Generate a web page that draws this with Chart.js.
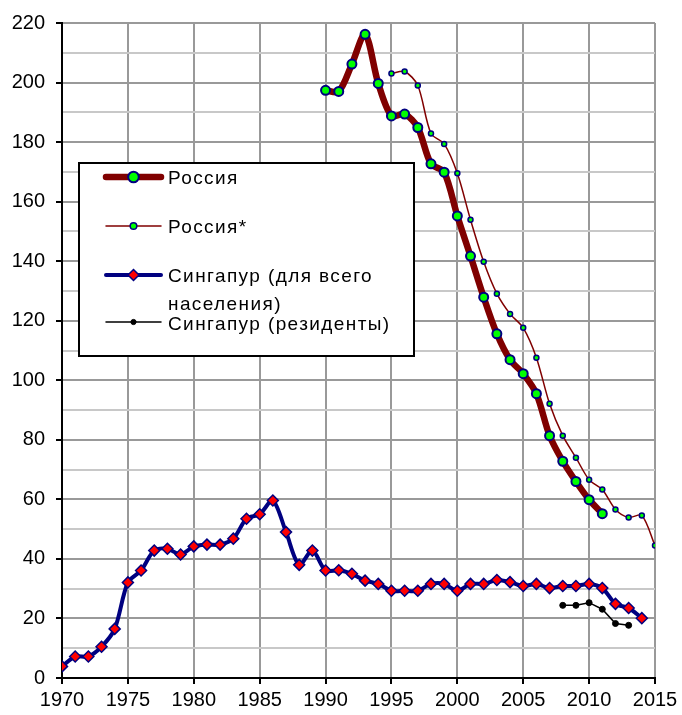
<!DOCTYPE html>
<html>
<head>
<meta charset="utf-8">
<style>
  body { margin: 0; background: #fff; }
</style>
</head>
<body>
<canvas id="myChart" width="682" height="715"></canvas>
<script src="https://cdn.jsdelivr.net/npm/chart.js@4"></script>
<script>
// Russia (thick line)
const russiaYears = [1990, 1991, 1992, 1993, 1994, 1995, 1996, 1997, 1998, 1999, 2000,
  2001, 2002, 2003, 2004, 2005, 2006, 2007, 2008, 2009, 2010, 2011];
const russiaValues = [197.4, 197.0, 206.2, 216.2, 199.7, 188.8, 189.4, 184.9, 172.7, 169.9, 155.2,
  141.7, 127.9, 115.6, 106.9, 102.2, 95.5, 81.4, 72.8, 66.0, 59.9, 55.2];

// Russia* (thin line)
const russiaStarYears = [1995, 1996, 1997, 1998, 1999, 2000, 2001, 2002, 2003, 2004, 2005,
  2006, 2007, 2008, 2009, 2010, 2011, 2012, 2013, 2014, 2015];
const russiaStarValues = [203.0, 203.7, 199.0, 182.9, 179.4, 169.5, 153.9, 139.8, 129.1, 122.3, 117.6,
  107.6, 92.1, 81.4, 74.0, 66.6, 63.3, 56.6, 53.9, 54.6, 44.5];

// Singapore, whole population
const singaporeYears = [1970, 1971, 1972, 1973, 1974, 1975, 1976, 1977, 1978, 1979, 1980,
  1981, 1982, 1983, 1984, 1985, 1986, 1987, 1988, 1989, 1990, 1991, 1992, 1993, 1994, 1995,
  1996, 1997, 1998, 1999, 2000, 2001, 2002, 2003, 2004, 2005, 2006, 2007, 2008, 2009, 2010,
  2011, 2012, 2013, 2014];
const singaporeValues = [3.9, 7.2, 7.2, 10.5, 16.5, 32.1, 36.1, 42.8, 43.4, 41.5, 44.2,
  44.8, 44.8, 46.8, 53.5, 55.0, 59.6, 49.0, 38.0, 42.8, 36.1, 36.2, 35.0, 32.7, 31.6, 29.3,
  29.3, 29.3, 31.6, 31.6, 29.3, 31.6, 31.6, 32.9, 32.2, 30.9, 31.6, 30.2, 30.9, 30.9, 31.6,
  30.2, 24.9, 23.5, 20.1];

// Singapore, residents
const residentYears = [2008, 2009, 2010, 2011, 2012, 2013];
const residentValues = [24.4, 24.4, 25.3, 23.1, 18.3, 17.7];

const seriesLabels = ['Россия', 'Россия*', 'Сингапур (для всего населения)', 'Сингапур (резиденты)'];
const legendLines = [['Россия'], ['Россия*'], ['Сингапур (для всего', 'населения)'], ['Сингапур (резиденты)']];

const xTicks = { min: 1970, max: 2015, step: 5 };
const yTicks = { min: 0, max: 220, step: 10, labelEvery: 20 };

const toPoints = (xs, ys) => xs.map((x, i) => ({ x: x, y: ys[i] }));

const FONT = '"Liberation Sans", Arial, sans-serif';

// legend drawn into a boxed area like the original
const boxLegend = {
  id: 'boxLegend',
  afterDraw(chart) {
    const ctx = chart.ctx;
    ctx.save();
    ctx.fillStyle = '#fff';
    ctx.fillRect(79, 163, 335, 193);
    ctx.strokeStyle = '#000';
    ctx.lineWidth = 2;
    ctx.strokeRect(79, 163, 335, 193);

    const lineY = [177, 226, 275, 322];
    const textY = [[179], [228], [277, 305], [325]];
    const markerSize = [5.3, 3.3, 5.5, 2.6];
    chart.data.datasets.forEach((ds, i) => {
      const y = lineY[i];
      ctx.strokeStyle = ds.borderColor;
      ctx.lineWidth = ds.borderWidth;
      ctx.lineCap = 'round';
      ctx.beginPath();
      ctx.moveTo(106, y);
      ctx.lineTo(161, y);
      ctx.stroke();

      const r = markerSize[i];
      ctx.beginPath();
      if (ds.pointStyle === 'rectRot') {
        ctx.moveTo(133.5, y - r);
        ctx.lineTo(133.5 + r, y);
        ctx.lineTo(133.5, y + r);
        ctx.lineTo(133.5 - r, y);
        ctx.closePath();
      } else {
        ctx.arc(133.5, y, r, 0, Math.PI * 2);
      }
      ctx.fillStyle = ds.pointBackgroundColor;
      ctx.fill();
      ctx.lineWidth = ds.pointBorderWidth;
      ctx.strokeStyle = ds.pointBorderColor;
      ctx.stroke();

      ctx.fillStyle = '#000';
      ctx.font = '19px ' + FONT;
      ctx.letterSpacing = '1.4px';
      ctx.textBaseline = 'middle';
      ctx.textAlign = 'left';
      legendLines[i].forEach((t, k) => ctx.fillText(t, 168, textY[i][k]));
      ctx.letterSpacing = '0px';
    });
    ctx.restore();
  }
};

const ctx = document.getElementById('myChart').getContext('2d');
new Chart(ctx, {
  type: 'line',
  data: {
    datasets: [
      {
        label: seriesLabels[0],
        data: toPoints(russiaYears, russiaValues),
        borderColor: '#800000',
        borderWidth: 6.5,
        borderCapStyle: 'round',
        borderJoinStyle: 'round',
        tension: 0.3,
        pointRadius: 4.5,
        pointBorderWidth: 2,
        pointBackgroundColor: '#00ff00',
        pointBorderColor: '#000080'
      },
      {
        label: seriesLabels[1],
        data: toPoints(russiaStarYears, russiaStarValues),
        borderColor: '#800000',
        borderWidth: 1.5,
        tension: 0.3,
        pointRadius: 2.5,
        pointBorderWidth: 1.5,
        pointBackgroundColor: '#00ff00',
        pointBorderColor: '#000080'
      },
      {
        label: seriesLabels[2],
        data: toPoints(singaporeYears, singaporeValues),
        borderColor: '#000080',
        borderWidth: 4,
        borderJoinStyle: 'round',
        tension: 0.3,
        pointStyle: 'rectRot',
        pointRadius: 5.5,
        pointBorderWidth: 1.5,
        pointBackgroundColor: '#ff0000',
        pointBorderColor: '#000080'
      },
      {
        label: seriesLabels[3],
        data: toPoints(residentYears, residentValues),
        borderColor: '#000000',
        borderWidth: 1.5,
        tension: 0,
        pointRadius: 3,
        pointBorderWidth: 1,
        pointBackgroundColor: '#000000',
        pointBorderColor: '#000000'
      }
    ]
  },
  options: {
    responsive: false,
    animation: false,
    layout: { padding: { left: 0, right: 27, top: 22, bottom: 0 } },
    plugins: {
      legend: { display: false },
      tooltip: { enabled: false }
    },
    scales: {
      x: {
        type: 'linear',
        min: xTicks.min,
        max: xTicks.max,
        ticks: {
          stepSize: xTicks.step,
          color: '#000',
          font: { size: 20, family: FONT },
          padding: 4,
          maxRotation: 0,
          callback: v => String(v)
        },
        grid: { color: '#999', lineWidth: 2, tickLength: 6, tickColor: '#000', tickWidth: 2 },
        border: { color: '#000', width: 2 },
        afterFit: s => { s.height = 37; }
      },
      y: {
        min: yTicks.min,
        max: yTicks.max,
        ticks: {
          stepSize: yTicks.step,
          color: '#000',
          font: { size: 20, family: FONT },
          padding: 11,
          autoSkip: false,
          callback: v => (v % yTicks.labelEvery === 0 ? String(v) : '')
        },
        grid: {
          color: c => (c.tick && c.tick.value % yTicks.labelEvery === 0 ? '#999' : '#c8c8c8'),
          lineWidth: 2,
          tickLength: 6,
          tickWidth: 2,
          tickColor: c => (c.tick && c.tick.value % yTicks.labelEvery === 0 ? '#000' : 'rgba(0,0,0,0)')
        },
        border: { color: '#000', width: 2 },
        afterFit: s => { s.width = 62; }
      }
    }
  },
  plugins: [boxLegend]
});
</script>
</body>
</html>
